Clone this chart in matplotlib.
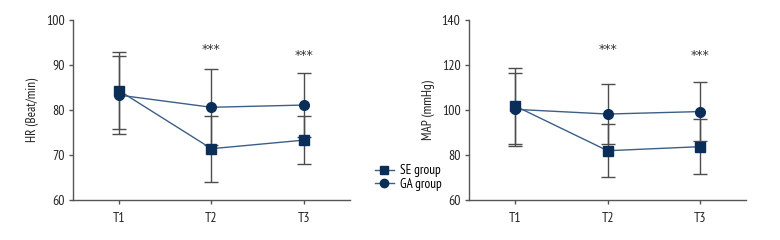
import matplotlib
matplotlib.use("Agg")
import matplotlib.pyplot as plt
from matplotlib.lines import Line2D

plt.rcParams['font.family'] = ['PT Sans Narrow', 'DejaVu Sans']

times = ["T1", "T2", "T3"]

hr_se = [84.3, 71.4, 73.3]
hr_se_err = [8.6, 7.3, 5.3]
hr_ga = [83.3, 80.6, 81.1]
hr_ga_err = [8.6, 8.4, 7.2]

map_se = [101.8, 81.9, 83.7]
map_se_err = [17.0, 11.8, 12.2]
map_ga = [100.3, 98.2, 99.3]
map_ga_err = [16.3, 13.4, 13.1]

hr_stars = [None, 93.5, 92.2]
map_stars = [None, 127.0, 124.4]

marker_col = "#0b2e59"
line_col = "#3d5f86"
err_col = "#4d4d4d"
axis_col = "#555555"

fig = plt.figure(figsize=(7.8, 2.4), dpi=100)
ax1 = fig.add_axes([0.0936, 0.1667, 0.355, 0.75])
ax2 = fig.add_axes([0.601, 0.1667, 0.356, 0.75])


def panel(ax, se, se_err, ga, ga_err, stars, ylim, yticks, ylabel):
    x = list(range(len(times)))
    ax.errorbar(x, ga, yerr=ga_err, fmt='none', ecolor=err_col, elinewidth=1,
                capsize=5, capthick=1, zorder=1)
    ax.errorbar(x, se, yerr=se_err, fmt='none', ecolor=err_col, elinewidth=1,
                capsize=5, capthick=1, zorder=1)
    ax.plot(x, ga, color=line_col, lw=1, marker='o', ms=7,
            mfc=marker_col, mec=marker_col, zorder=3)
    ax.plot(x, se, color=line_col, lw=1, marker='s', ms=7,
            mfc=marker_col, mec=marker_col, zorder=3)
    for xi, s in zip(x, stars):
        if s is not None:
            ax.text(xi, s, "***", ha='center', va='center', fontsize=9,
                    family='DejaVu Sans', color="#333333")
    ax.set_xlim(-0.5, 2.5)
    ax.set_ylim(*ylim)
    ax.set_yticks(yticks)
    ax.set_xticks(x)
    ax.set_xticklabels(times)
    ax.set_ylabel(ylabel, fontsize=9.5, color="#222222", labelpad=5)
    ax.tick_params(labelsize=10, colors="#222222", length=3, width=1,
                   color=axis_col, pad=3)
    ax.tick_params(axis='x', pad=6)
    for sp in ['top', 'right']:
        ax.spines[sp].set_visible(False)
    for sp in ['left', 'bottom']:
        ax.spines[sp].set_color(axis_col)
        ax.spines[sp].set_linewidth(1)


panel(ax1, hr_se, hr_se_err, hr_ga, hr_ga_err, hr_stars, (60, 100),
      [60, 70, 80, 90, 100], "HR (Beat/min)")
panel(ax2, map_se, map_se_err, map_ga, map_ga_err, map_stars, (60, 140),
      [60, 80, 100, 120, 140], "MAP (mmHg)")

handles = [
    Line2D([], [], color=line_col, lw=1, marker='s', ms=6, mfc=marker_col,
           mec=marker_col),
    Line2D([], [], color=line_col, lw=1, marker='o', ms=6, mfc=marker_col,
           mec=marker_col),
]
fig.legend(handles, ["SE group", "GA group"], loc='center left',
           bbox_to_anchor=(0.465, 0.26), frameon=False, fontsize=9.5,
           handlelength=1.5, handletextpad=0.4, labelspacing=0.05)

fig.savefig("out.png", dpi=100)
